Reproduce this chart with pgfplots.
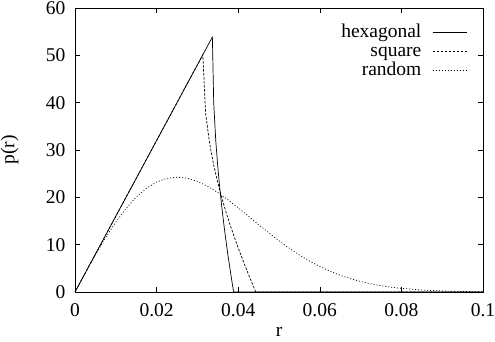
\documentclass[border=0pt]{standalone}
\usepackage{pgfplots}
\pgfplotsset{compat=1.18}
\usepackage{fontspec}
\setmainfont{Liberation Serif}
\begin{document}
\fontsize{19.5}{22}\selectfont
\begin{tikzpicture}
\useasboundingbox (-75pt,-49pt) rectangle (420pt,292pt);
\begin{axis}[
  scale only axis,
  width=408pt, height=284pt,
  at={(0,0)}, anchor=south west,
  xmin=0, xmax=0.1, ymin=0, ymax=60,
  xtick={0,0.02,0.04,0.06,0.08,0.1},
  xticklabels={0,0.02,0.04,0.06,0.08,0.1},
  ytick={0,10,20,30,40,50,60},
  /pgf/number format/assume math mode=true,
  tick align=inside,
  major tick length=5pt,
  tick style={black, line width=0.6pt},
  axis line style={line width=0.8pt},
  xlabel={r}, ylabel={p(r)},
  xlabel style={yshift=3pt},
  ylabel style={yshift=14pt},
  xticklabel style={yshift=-5pt},
  yticklabel style={xshift=-3pt},
  legend style={draw=none, fill=none, inner sep=0pt, outer sep=0pt,
    at={(0.961,0.947)}, anchor=north east,
    row sep=0pt,
    nodes={text height=13pt, text depth=4pt, inner sep=1pt},
    /tikz/every odd column/.append style={column sep=10pt},
    font=\fontsize{19.5}{20}\selectfont},
  legend cell align=right,
  legend plot pos=right,
  legend image code/.code={\draw[#1] (0pt,0pt) -- (34pt,0pt);},
]
\addplot[black, line width=0.7pt] coordinates {
(0,0) (0.0336693,53.87) (0.0340,39.91) (0.0345,32.02) (0.0350,26.41) (0.0355,21.81)
(0.0360,17.80) (0.0365,14.19) (0.0370,10.86) (0.0375,7.73) (0.0380,4.83) (0.0385,2.03)
(0.038878,0) (0.1,0)
};
\addlegendentry{hexagonal}
\addplot[black, line width=0.7pt, dash pattern=on 2.5pt off 1.5pt] coordinates {
(0,0) (0.0313329,50.13) (0.032,37.87) (0.033,31.34) (0.034,26.78) (0.035,23.08)
(0.036,19.84) (0.037,16.93) (0.038,14.24) (0.039,11.73) (0.040,9.34) (0.041,7.05)
(0.042,4.85) (0.043,2.71) (0.0437,1.25) (0.0443113,0) (0.1,0)
};
\addlegendentry{square}
\addplot[black, line width=0.7pt, dash pattern=on 1pt off 2pt] coordinates {
(0,0) (0.0025,3.980) (0.005,7.842) (0.0075,11.472) (0.01,14.770) (0.0125,17.650)
(0.015,20.047) (0.0175,21.914) (0.02,23.236) (0.0225,24.011) (0.025,24.261)
(0.0275,24.027) (0.03,23.364) (0.0325,22.337) (0.035,21.017) (0.0375,19.479)
(0.04,17.795) (0.0425,16.031) (0.045,14.249) (0.0475,12.500) (0.05,10.827)
(0.0525,9.261) (0.055,7.825) (0.0575,6.533) (0.06,5.389) (0.0625,4.394)
(0.065,3.541) (0.0675,2.821) (0.07,2.222) (0.0725,1.731) (0.075,1.333)
(0.0775,1.015) (0.08,0.765) (0.085,0.420) (0.09,0.221) (0.095,0.111) (0.1,0.054)
};
\addlegendentry{random}
\end{axis}
\end{tikzpicture}
\end{document}
